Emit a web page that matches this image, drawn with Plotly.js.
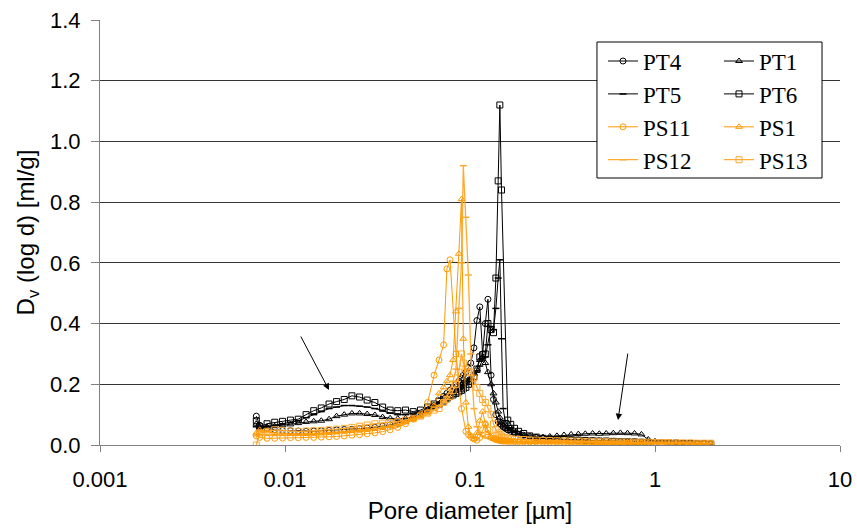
<!DOCTYPE html>
<html><head><meta charset="utf-8">
<script src="https://cdn.plot.ly/plotly-3.0.1.min.js"></script>
<style>html,body{margin:0;padding:0;background:#fff}#chart{width:857px;height:529px}</style>
</head><body><div id="chart"></div>
<script>
// Pore diameter grid [µm]
const diameter = [0.0070,0.0073,0.0080,0.0088,0.0097,0.0107,0.0118,0.0130,0.0143,0.0157,
 0.0173,0.0190,0.0209,0.0230,0.0253,0.0278,0.0306,0.0337,0.0370,0.0407,
 0.0448,0.0493,0.0540,0.0590,0.0640,0.0680,0.0720,0.0750,0.0780,0.0810,
 0.0840,0.0870,0.0900,0.0920,0.0950,0.0980,0.1010,0.1050,0.1090,0.1130,
 0.1170,0.1210,0.1250,0.1300,0.1340,0.1380,0.1420,0.1450,0.1480,0.1510,
 0.1550,0.1600,0.1660,0.1740,0.1830,0.1950,0.2100,0.2280,0.2480,0.2700,
 0.2950,0.3220,0.3520,0.3850,0.4200,0.4600,0.5000,0.5450,0.5950,0.6500,
 0.7100,0.7750,0.8450,0.9200,1.0000,1.0900,1.1900,1.3000,1.4200,1.5500,
 1.6900,1.8400,2.0000];

const PT4 = [0.095,0.065,0.055,0.050,0.048,0.047,0.046,0.045,0.046,0.047,
 0.048,0.050,0.051,0.052,0.054,0.056,0.058,0.062,0.066,0.072,
 0.080,0.090,0.100,0.115,0.130,0.145,0.160,0.170,0.180,0.190,
 0.200,0.210,0.220,0.230,0.240,0.255,0.270,0.320,0.410,0.455,
 0.300,0.400,0.480,0.230,0.150,0.100,0.077,0.070,0.066,0.060,
 0.055,0.050,0.045,0.040,0.036,0.032,0.028,0.025,0.022,0.020,
 0.019,0.018,0.017,0.016,0.015,0.014,0.013,0.012,0.012,0.011,
 0.010,0.010,0.009,0.008,0.008,0.007,0.006,0.006,0.005,0.005,
 0.004,0.004,0.003];

const PT1 = [0.070,0.060,0.060,0.062,0.065,0.068,0.072,0.076,0.078,0.080,
 0.085,0.095,0.100,0.104,0.104,0.102,0.099,0.092,0.088,0.087,
 0.088,0.092,0.100,0.110,0.120,0.130,0.140,0.150,0.160,0.170,
 0.180,0.190,0.200,0.205,0.210,0.215,0.220,0.235,0.250,0.280,
 0.290,0.270,0.240,0.200,0.170,0.140,0.110,0.090,0.075,0.065,
 0.058,0.052,0.046,0.040,0.035,0.030,0.027,0.026,0.026,0.028,
 0.030,0.033,0.035,0.036,0.037,0.038,0.037,0.038,0.039,0.040,
 0.039,0.038,0.035,0.018,0.012,0.010,0.008,0.007,0.006,0.006,
 0.005,0.005,0.004];

const PT5 = [0.060,0.055,0.060,0.065,0.070,0.075,0.080,0.090,0.100,0.110,
 0.120,0.125,0.130,0.130,0.128,0.125,0.120,0.112,0.105,0.100,
 0.100,0.105,0.110,0.120,0.130,0.140,0.150,0.160,0.165,0.170,
 0.180,0.185,0.190,0.195,0.200,0.210,0.220,0.230,0.240,0.260,
 0.280,0.290,0.330,0.390,0.380,0.450,0.550,0.610,0.350,0.120,
 0.080,0.065,0.055,0.045,0.038,0.032,0.028,0.025,0.022,0.020,
 0.019,0.018,0.017,0.016,0.015,0.014,0.013,0.012,0.012,0.011,
 0.010,0.010,0.009,0.008,0.008,0.007,0.006,0.006,0.005,0.005,
 0.004,0.004,0.003];

const PT6 = [0.080,0.060,0.070,0.075,0.078,0.082,0.085,0.100,0.113,0.122,
 0.135,0.143,0.150,0.162,0.158,0.148,0.140,0.125,0.115,0.113,
 0.115,0.110,0.115,0.125,0.135,0.145,0.150,0.155,0.160,0.165,
 0.170,0.175,0.180,0.185,0.190,0.200,0.210,0.225,0.250,0.290,
 0.297,0.300,0.400,0.380,0.370,0.550,0.870,1.120,0.840,null,
 null,0.082,0.068,0.055,0.045,0.038,0.030,0.026,0.022,0.020,
 0.019,0.018,0.017,0.016,0.015,0.014,0.013,0.013,0.012,0.011,
 0.011,0.010,0.009,0.009,0.008,0.007,0.007,0.006,0.005,0.005,
 0.004,0.004,0.003];

const PS11 = [0.030,0.025,0.022,0.022,0.023,0.024,0.024,0.025,0.025,0.026,
 0.027,0.028,0.030,0.032,0.034,0.037,0.040,0.044,0.050,0.058,
 0.070,0.085,0.100,0.140,0.230,0.280,0.330,0.580,0.610,null,
 0.300,null,0.120,null,0.045,0.035,0.028,0.020,0.016,0.025,
 0.050,0.070,0.050,0.030,0.022,0.018,0.016,0.015,0.014,0.013,
 0.013,0.012,0.012,0.011,0.011,0.010,0.010,0.010,0.009,0.009,
 0.009,0.008,0.008,0.008,0.008,0.007,0.007,0.007,0.007,0.006,
 0.006,0.006,0.006,0.005,0.005,0.005,0.005,0.005,0.004,0.004,
 0.004,0.004,0.004];

const PS1 = [0.040,0.050,0.045,0.040,0.038,0.037,0.036,0.036,0.037,0.038,
 0.040,0.042,0.044,0.046,0.048,0.050,0.053,0.057,0.062,0.068,
 0.075,0.085,0.095,0.110,0.130,0.170,0.190,0.210,0.230,0.280,
 0.440,0.630,0.810,0.350,0.140,0.060,0.030,0.020,0.040,0.080,
 0.110,0.070,0.040,0.025,0.020,0.018,0.016,0.015,0.014,0.013,
 0.013,0.012,0.012,0.011,0.011,0.010,0.010,0.010,0.009,0.009,
 0.009,0.008,0.008,0.008,0.008,0.007,0.007,0.007,0.007,0.006,
 0.006,0.006,0.006,0.005,0.005,0.005,0.005,0.005,0.004,0.004,
 0.004,0.004,0.004];

const PS12 = [0.030,0.035,0.033,0.032,0.032,0.033,0.034,0.035,0.036,0.037,
 0.038,0.040,0.042,0.044,0.046,0.049,0.052,0.056,0.060,0.066,
 0.072,0.080,0.090,0.100,0.115,0.130,0.145,0.160,0.180,0.210,
 0.250,0.450,0.600,0.920,0.750,0.560,0.300,0.120,0.060,0.040,
 0.030,0.025,0.022,0.020,0.018,0.017,0.016,0.015,0.014,0.014,
 0.013,0.013,0.012,0.012,0.011,0.011,0.010,0.010,0.010,0.009,
 0.009,0.009,0.008,0.008,0.008,0.008,0.007,0.007,0.007,0.007,
 0.006,0.006,0.006,0.006,0.005,0.005,0.005,0.005,0.005,0.004,
 0.004,0.004,0.004];

const PS13 = [0.000,0.040,0.045,0.050,0.048,0.046,0.045,0.046,0.047,0.048,
 0.050,0.052,0.055,0.058,0.062,0.066,0.070,0.072,0.074,0.078,
 0.082,0.088,0.095,0.105,0.115,0.120,0.140,0.150,0.160,0.180,
 0.200,0.240,0.300,0.270,0.250,0.240,0.240,0.220,0.190,0.170,
 0.150,0.140,0.120,0.100,0.070,0.050,0.040,0.035,0.030,0.026,
 0.024,0.022,0.020,0.019,0.018,0.018,0.017,0.016,0.015,0.015,
 0.014,0.014,0.013,0.013,0.012,0.012,0.011,0.011,0.010,0.010,
 0.010,0.009,0.009,0.009,0.008,0.008,0.008,0.007,0.007,0.007,
 0.006,0.006,0.006];

const yTicks = [0,0.2,0.4,0.6,0.8,1.0,1.2,1.4];
const xTicks = [0.001,0.01,0.1,1,10];
const xTickText = ['0.001','0.01','0.1','1','10'];

const BLACK = '#000000', ORANGE = '#FF9900', ORANGE2 = '#FFAA33';

function mk(name, y, color, symbol, legend, lw) {
  const isLine = symbol === 'line-ew';
  return {
    type: 'scatter', mode: 'lines+markers', name: name, x: diameter, y: y,
    connectgaps: true, legend: legend, legendgroup: name,
    line: {color: color, width: lw},
    marker: {symbol: symbol, size: isLine ? 5 : 6, color: color,
             line: {color: color, width: isLine ? 1.5 : 1}}
  };
}

const traces = [
  mk('PT6', PT6, BLACK, 'square-open', 'legend2', 1),
  mk('PT5', PT5, BLACK, 'line-ew', 'legend', 1),
  mk('PT1', PT1, BLACK, 'triangle-up-open', 'legend2', 1),
  mk('PT4', PT4, BLACK, 'circle-open', 'legend', 1),
  mk('PS13', PS13, ORANGE2, 'square-open', 'legend2', 1.3),
  mk('PS12', PS12, ORANGE2, 'line-ew', 'legend', 1.3),
  mk('PS1', PS1, ORANGE, 'triangle-up-open', 'legend2', 1),
  mk('PS11', PS11, ORANGE, 'circle-open', 'legend', 1)
];
// legend order
const order = {PT4:1,PT5:2,PS11:3,PS12:4,PT1:1,PT6:2,PS1:3,PS13:4};
traces.forEach(t => t.legendrank = order[t.name]);

const legFont = {family: 'Liberation Serif, Times New Roman, serif', size: 23, color: '#000'};
const legBase = {xanchor: 'left', yanchor: 'top', bgcolor: 'rgba(0,0,0,0)', borderwidth: 0,
                 font: legFont, tracegroupgap: 0, traceorder: 'normal'};

const layout = {
  width: 857, height: 529,
  margin: {l: 100, r: 17, t: 20, b: 84},
  paper_bgcolor: '#fff', plot_bgcolor: '#fff',
  font: {family: 'Liberation Sans, Arial, sans-serif', size: 22, color: '#000'},
  showlegend: true,
  legend: Object.assign({x: 0.6797, y: 0.954}, legBase),
  legend2: Object.assign({x: 0.8365, y: 0.954}, legBase),
  xaxis: {
    type: 'log', range: [-3, 1], tickvals: xTicks, ticktext: xTickText,
    showgrid: false, zeroline: false, showline: true, linecolor: '#808080', linewidth: 1,
    ticks: 'outside', ticklen: 6, tickcolor: '#808080', ticklabelstandoff: 9,
    tickfont: {size: 22},
    title: {text: 'Pore diameter [µm]', font: {size: 24}, standoff: 10}
  },
  yaxis: {
    range: [0, 1.4], tickvals: yTicks, tickformat: '.1f',
    showgrid: true, gridcolor: '#333333', gridwidth: 1, zeroline: false,
    showline: true, linecolor: '#808080', linewidth: 1,
    ticks: 'outside', ticklen: 8, tickcolor: '#808080', ticklabelstandoff: 6,
    tickfont: {size: 22},
    title: {text: 'D<sub>v</sub> (log d) [ml/g]', font: {size: 24}, standoff: 8}
  },
  shapes: [{type: 'rect', xref: 'paper', yref: 'paper', x0: 0.6716, x1: 0.9757, y0: 0.6282, y1: 0.9482,
            line: {color: '#000', width: 1}, fillcolor: '#fff', layer: 'above'}],
  annotations: [
    {x: Math.log10(0.0173), y: 0.181, xref: 'x', yref: 'y', ax: -29, ay: -55, text: '',
     showarrow: true, arrowhead: 2, arrowsize: 1.3, arrowwidth: 1, arrowcolor: '#000'},
    {x: Math.log10(0.631), y: 0.082, xref: 'x', yref: 'y', ax: 10, ay: -68, text: '',
     showarrow: true, arrowhead: 2, arrowsize: 1.3, arrowwidth: 1, arrowcolor: '#000'}
  ]
};

Plotly.newPlot('chart', traces, layout, {displayModeBar: false, staticPlot: true});
</script></body></html>
